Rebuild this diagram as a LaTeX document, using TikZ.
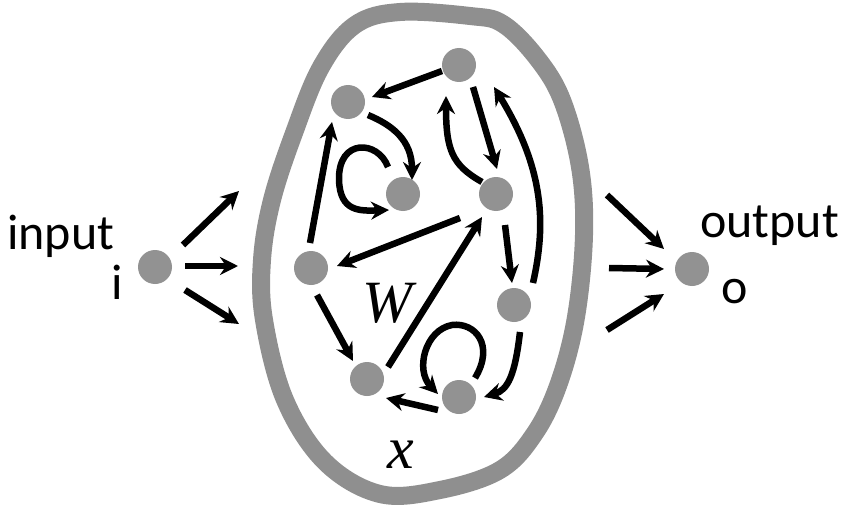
\documentclass[tikz,border=0pt]{standalone}
\usepackage{fontspec}
\setmainfont{Carlito}
\newfontfamily\tms{Liberation Serif}
\usetikzlibrary{arrows.meta,calc}
\begin{document}
\begin{tikzpicture}[x=1pt,y=-1pt,
  unit/.style={circle,fill=nodegray,draw=none,minimum size=34pt,inner sep=0pt},
  arr/.style={line width=6.5pt,-{Stealth[length=18pt,width=18pt,inset=6pt]}},
  lbl/.style={font=\fontsize{50}{54}\selectfont,inner sep=0pt},
  sym/.style={font=\fontsize{60}{64}\selectfont\tms\itshape,inner sep=0pt}]
\definecolor{nodegray}{HTML}{929292}
\definecolor{blobgray}{HTML}{8F8F8F}
\useasboundingbox (0,0) rectangle (841,511);
% reservoir outline
\draw[blobgray,line width=18pt] plot[smooth cycle,tension=0.6] coordinates {
 (400,12) (470,16) (503,24) (537,58) (562,100) (580,167) (584,235) (576,317)
 (559,383) (535,433) (500,470) (440,490) (380,494) (325,462) (285,400)
 (264,320) (262,260) (272,200) (294,133) (321,67) (355,25)};
% nodes
\node[unit] (i) at (155,267) {};
\node[unit] (o) at (692,269) {};
\node[unit] (A) at (348,102) {};
\node[unit] (B) at (459,65) {};
\node[unit] (C) at (403,194) {};
\node[unit] (D) at (496,194) {};
\node[unit] (E) at (311,268) {};
\node[unit] (F) at (514,305) {};
\node[unit] (G) at (367,379) {};
\node[unit] (H) at (459,397) {};
% labels
\node[lbl,anchor=base west] (tin) at (7,249) {input};
\node[lbl,anchor=base west] (ti) at (111,299) {i};
\node[lbl,anchor=base west] (tout) at (700,237) {output};
\node[lbl,anchor=base west] (to) at (721,303) {o};
\node[sym,anchor=base] (tW) at (387,322) {W};
\node[sym,anchor=base] (tx) at (401,468) {x};
% input / output coordinates
\coordinate (in1) at (239,191);
\coordinate (in2) at (238,266);
\coordinate (in3) at (239,324);
\coordinate (out1) at (607,195);
\coordinate (out2) at (609,268);
\coordinate (out3) at (607,330);
\draw[arr] ($(i)+(28,-22)$) -- (in1);
\draw[arr] ($(i)+(30,-1)$) -- (in2);
\draw[arr] ($(i)+(30,23)$) -- (in3);
\draw[arr] (out1) -- ($(o)+(-28,-20)$);
\draw[arr] (out2) -- ($(o)+(-28,0)$);
\draw[arr] (out3) -- ($(o)+(-28,25)$);
% internal connections
\draw[arr] ($(B)+(-17,6)$) -- ($(A)+(24,-5)$);
\draw[arr] ($(A)+(20,13)$) .. controls (392,125) and (412,140) .. ($(C)+(9,-14)$);
\draw[arr] ($(C)+(-15,-27)$) .. controls (378,140) and (338,138) .. (339,180)
   .. controls (340,212) and (360,211) .. ($(C)+(-14,16)$);
\draw[arr] ($(E)+(-1,-25)$) -- ($(A)+(-16,20)$);
\draw[arr] ($(D)+(-36,24)$) -- ($(E)+(26,-2)$);
\draw[arr] ($(G)+(21,-12)$) -- ($(D)+(-14,23)$);
\draw[arr] ($(D)+(-14,-12)$) .. controls (452,165) and (446,150) .. ($(B)+(-13,31)$);
\draw[arr] ($(B)+(14,22)$) -- ($(D)+(1,-25)$);
\draw[arr] ($(F)+(19,-22)$) .. controls (546,225) and (545,170) .. ($(B)+(35,22)$);
\draw[arr] ($(D)+(9,31)$) -- ($(F)+(-2,-22)$);
\draw[arr] ($(F)+(6,27)$) .. controls (515,375) and (508,390) .. ($(H)+(25,0)$);
\draw[arr] ($(H)+(16,-19)$) .. controls (495,345) and (475,322) .. (452,325)
   .. controls (425,330) and (415,370) .. ($(H)+(-21,-3)$);
\draw[arr] ($(H)+(-21,13)$) -- ($(G)+(19,19)$);
\draw[arr] ($(E)+(6,27)$) -- ($(G)+(-14,-18)$);
\end{tikzpicture}
\end{document}
